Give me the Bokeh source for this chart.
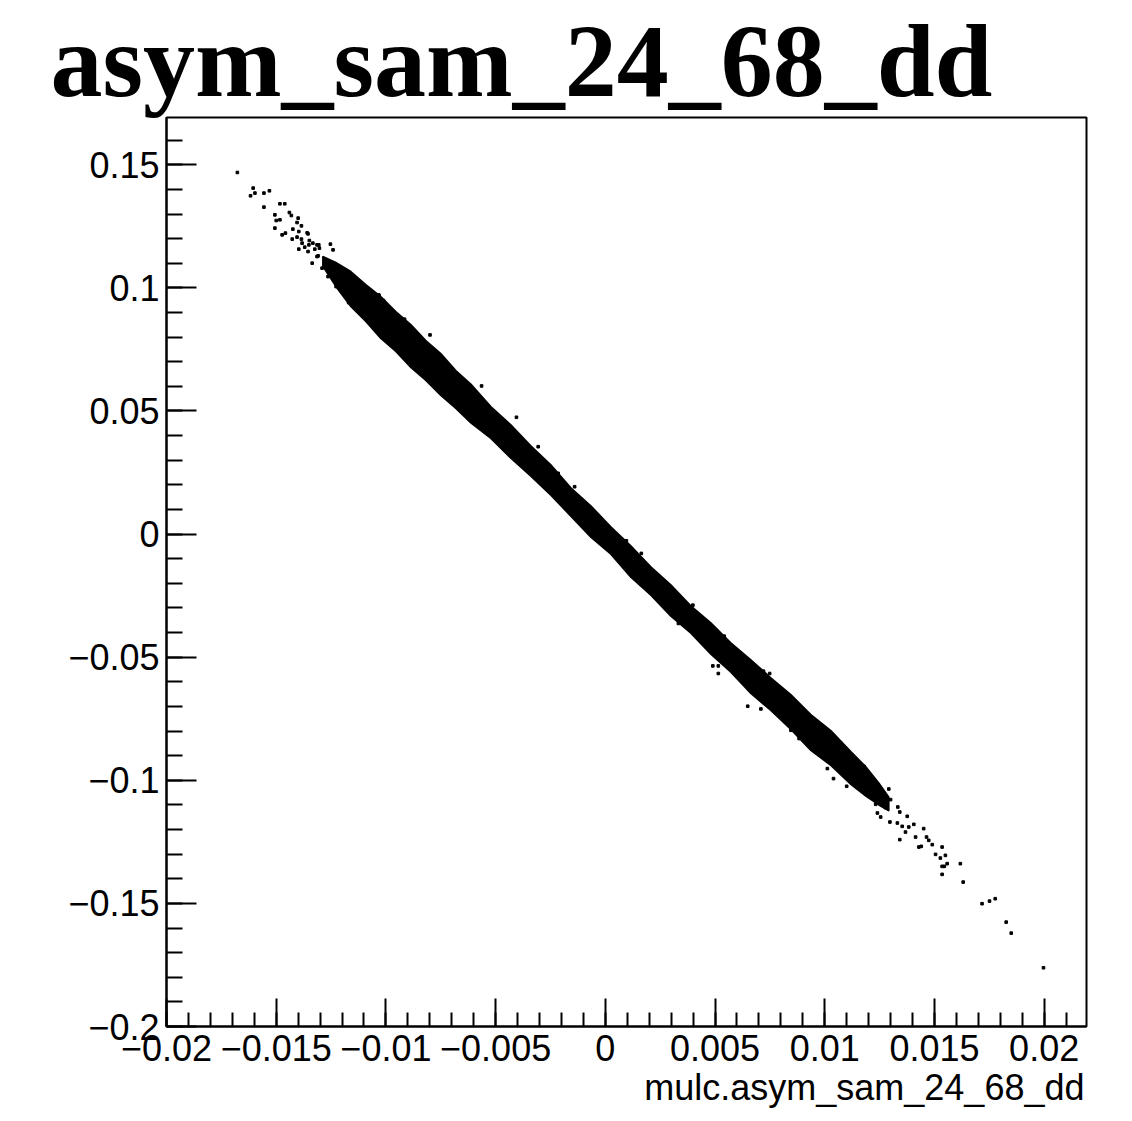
from bokeh.plotting import figure
from bokeh.models import Range1d, FixedTicker, CustomJSTickFormatter, Title, ColumnDataSource
from bokeh.embed import file_html
from bokeh.resources import INLINE

# ---------------- data ----------------
title_text = "asym_sam_24_68_dd"
x_title = "mulc.asym_sam_24_68_dd"

x_ticks = [-0.02, -0.015, -0.01, -0.005, 0.0, 0.005, 0.01, 0.015, 0.02]
x_tick_labels = ["\u22120.02", "\u22120.015", "\u22120.01", "\u22120.005", "0",
                 "0.005", "0.01", "0.015", "0.02"]
y_ticks = [-0.2, -0.15, -0.1, -0.05, 0.0, 0.05, 0.1, 0.15]
y_tick_labels = ["\u22120.2", "\u22120.15", "\u22120.1", "\u22120.05", "0",
                 "0.05", "0.1", "0.15"]

# dense core of the scatter: upper and lower edge of the black band
band_x = [-0.012876, -0.012284, -0.011600, -0.010916, -0.010232, -0.009549, -0.008865,
          -0.008181, -0.007498, -0.006814, -0.006130, -0.005219, -0.004307, -0.003396,
          -0.002484, -0.001572, -0.000661, 0.000251, 0.001162, 0.002074, 0.002985,
          0.003897, 0.004809, 0.005720, 0.006632, 0.007543, 0.008455, 0.009366,
          0.010278, 0.011190, 0.011873, 0.012466, 0.012922]
band_top = [0.11275, 0.11030, 0.10665, 0.10137, 0.09649, 0.09040, 0.08512,
            0.07862, 0.07334, 0.06644, 0.06096, 0.05182, 0.04441, 0.03588,
            0.02816, 0.01882, 0.01151, 0.00298, -0.00474, -0.01327, -0.02058,
            -0.02911, -0.03601, -0.04414, -0.05104, -0.05835, -0.06516, -0.07328,
            -0.07978, -0.08831, -0.09450, -0.10110, -0.10689]
band_bot = [0.10870, 0.10058, 0.09246, 0.08636, 0.07946, 0.07418, 0.06768,
            0.06240, 0.05631, 0.05103, 0.04513, 0.03884, 0.03081, 0.02350,
            0.01578, 0.00725, -0.00127, -0.00818, -0.01752, -0.02483, -0.03336,
            -0.04027, -0.04880, -0.05611, -0.06474, -0.07164, -0.07936, -0.08789,
            -0.09398, -0.10170, -0.10647, -0.11003, -0.11237]

# isolated events outside the dense core
pts_x = [-0.01677, -0.01605, -0.01617, -0.01597, -0.01556, -0.01531, -0.01556, -0.01483,
         -0.01461, -0.01440, -0.01431, -0.01506, -0.01500, -0.01483, -0.01400, -0.01405,
         -0.01385, -0.01506, -0.01473, -0.01458, -0.01424, -0.01397, -0.01427, -0.01405,
         -0.01385, -0.01355, -0.01349, -0.01333, -0.01314, -0.01382, -0.01397, -0.01370,
         -0.01355, -0.01324, -0.01303, -0.01253, -0.01241, -0.01309, -0.01336, -0.01291,
         -0.01264, -0.01227, -0.01170, -0.01031, -0.01011, -0.01003, -0.00799, -0.00915,
         -0.01359, -0.01351, -0.01306, -0.01314, -0.01033, -0.00996, -0.00874, -0.00731,
         -0.00564, -0.00405, -0.00306, -0.00215, -0.00140, 0.00096, 0.00164, 0.00399,
         0.00333, 0.00542, 0.00490, 0.00515, 0.00515, 0.00721, 0.00749, 0.00649,
         0.00709, 0.00846, 0.00883, 0.01020, 0.01073, 0.01005, 0.01012, 0.01040,
         0.01085, 0.01100, 0.01100, 0.01161, 0.01179, 0.01292, 0.01251, 0.01300,
         0.01232, 0.01240, 0.01255, 0.01277, 0.01297, 0.01333, 0.01342, 0.01376,
         0.01331, 0.01353, 0.01368, 0.01383, 0.01406, 0.01342, 0.01414, 0.01451,
         0.01464, 0.01474, 0.01490, 0.01429, 0.01440, 0.01535, 0.01505, 0.01527,
         0.01550, 0.01558, 0.01535, 0.01545, 0.01535, 0.01618, 0.01631, 0.01717,
         0.01751, 0.01777, 0.01827, 0.01850, 0.01997]
pts_y = [0.14687, 0.14053, 0.13740, 0.13850, 0.13850, 0.13943, 0.13280, 0.13415,
         0.13415, 0.13061, 0.12939, 0.12967, 0.12736, 0.12764, 0.12833, 0.12654,
         0.12520, 0.12427, 0.12154, 0.12224, 0.12386, 0.12289, 0.11980, 0.12061,
         0.11980, 0.12195, 0.11923, 0.11817, 0.11748, 0.11817, 0.11573, 0.11654,
         0.11476, 0.11573, 0.11614, 0.11776, 0.11545, 0.11301, 0.11004, 0.10801,
         0.10459, 0.10053, 0.09402, 0.09687, 0.09484, 0.08427, 0.08089, 0.08728,
         0.12236, 0.11748, 0.11748, 0.11272, 0.09715, 0.08089, 0.07073, 0.06870,
         0.06016, 0.04744, 0.03549, 0.02467, 0.01923, -0.00272, -0.00785, -0.02886,
         -0.03630, -0.04146, -0.05354, -0.05354, -0.05663, -0.05569, -0.05663, -0.06992,
         -0.07102, -0.07967, -0.08305, -0.08415, -0.08484, -0.09077, -0.09524, -0.09931,
         -0.09256, -0.09797, -0.10244, -0.10244, -0.09431, -0.10354, -0.10569, -0.10785,
         -0.10976, -0.11329, -0.11492, -0.11110, -0.11695, -0.11085, -0.11289, -0.11463,
         -0.11736, -0.11870, -0.12102, -0.11898, -0.11789, -0.12411, -0.12305, -0.11963,
         -0.12305, -0.12439, -0.12614, -0.12711, -0.12683, -0.12711, -0.13008, -0.13159,
         -0.13049, -0.13386, -0.13496, -0.13496, -0.13821, -0.13386, -0.14134, -0.15012,
         -0.14907, -0.14809, -0.15760, -0.16207, -0.17614]

x_min, x_max = -0.02, 0.02193
y_min, y_max = -0.2, 0.1692

# ---------------- figure ----------------
p = figure(frame_width=920, frame_height=909,
           x_range=Range1d(x_min, x_max), y_range=Range1d(y_min, y_max),
           output_backend="svg", toolbar_location=None, title=title_text,
           min_border_left=166, min_border_top=116, min_border_right=40,
           min_border_bottom=90, background_fill_color="white",
           border_fill_color="white")
p.grid.visible = False
p.outline_line_color = "black"
p.outline_line_width = 2
p.outline_line_alpha = 1.0

p.title.text_font = "Liberation Serif"
p.title.text_font_style = "bold"
p.title.text_font_size = "104px"
p.title.text_color = "black"
p.title.align = "left"
p.title.offset = -116
p.title.standoff = 0

band_xs = band_x + band_x[::-1]
band_ys = band_top + band_bot[::-1]
p.patch(band_xs, band_ys, fill_color="black", line_color="black", line_width=1.5)

src = ColumnDataSource(dict(x=pts_x, y=pts_y))
p.scatter("x", "y", source=src, marker="square", size=2.6, color="black")

x_minor = [round(-0.02 + 0.001 * i, 4) for i in range(42)]
y_minor = [round(-0.2 + 0.01 * i, 3) for i in range(37)]

p.xaxis.ticker = FixedTicker(ticks=x_ticks, minor_ticks=x_minor)
p.yaxis.ticker = FixedTicker(ticks=y_ticks, minor_ticks=y_minor)

fmt_code = """
let best = 0, bd = 1e9;
for (let i = 0; i < vals.length; i++) {
  const d = Math.abs(vals[i] - tick);
  if (d < bd) { bd = d; best = i; }
}
return labs[best];
"""
p.xaxis.formatter = CustomJSTickFormatter(args=dict(vals=x_ticks, labs=x_tick_labels), code=fmt_code)
p.yaxis.formatter = CustomJSTickFormatter(args=dict(vals=y_ticks, labs=y_tick_labels), code=fmt_code)

for ax in (p.xaxis, p.yaxis):
    ax.axis_line_color = "black"
    ax.axis_line_width = 2
    ax.major_tick_line_color = "black"
    ax.major_tick_line_width = 2
    ax.minor_tick_line_color = "black"
    ax.minor_tick_line_width = 2
    ax.major_tick_out = 0
    ax.minor_tick_out = 0
    ax.major_label_text_font = "Liberation Sans"
    ax.major_label_text_font_size = "36px"
    ax.major_label_text_color = "black"

p.xaxis.major_tick_in = 28
p.xaxis.minor_tick_in = 14
p.yaxis.major_tick_in = 30
p.yaxis.minor_tick_in = 16
p.xaxis.major_label_standoff = 8
p.yaxis.major_label_standoff = 7

xlab = Title(text=x_title, align="right", offset=2, standoff=3,
             text_font="Liberation Sans", text_font_style="normal",
             text_font_size="36px", text_color="black", text_line_height=1.0)
p.add_layout(xlab, "below")

open("out.html", "w").write(file_html(p, INLINE))
